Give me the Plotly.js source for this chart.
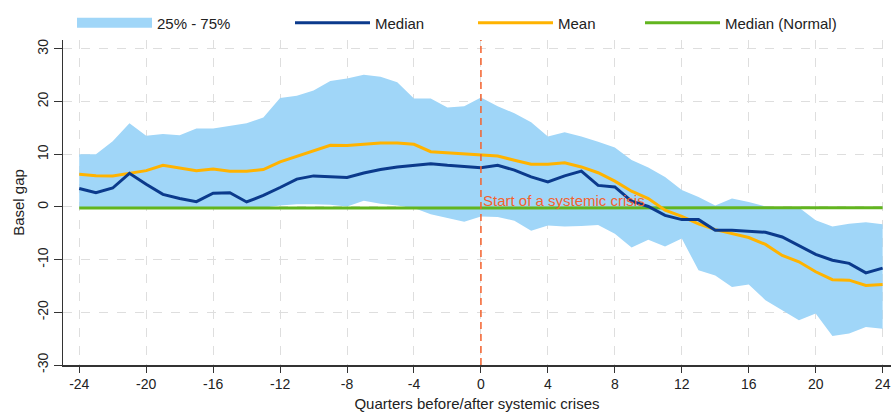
<!DOCTYPE html>
<html>
<head>
<meta charset="utf-8">
<script src="https://cdn.plot.ly/plotly-3.0.1.min.js"></script>
<style>html,body{margin:0;padding:0;background:#fff;}#chart{width:891px;height:412px;}</style>
</head>
<body>
<div id="chart"></div>
<script>
// Quarters before/after systemic crises
var quarters = [-24,-23,-22,-21,-20,-19,-18,-17,-16,-15,-14,-13,-12,-11,-10,-9,-8,-7,-6,-5,-4,-3,-2,-1,0,1,2,3,4,5,6,7,8,9,10,11,12,13,14,15,16,17,18,19,20,21,22,23,24];

// 25th percentile of the Basel gap
var p25 = [-0.1,-0.1,-0.1,-0.1,-0.1,-0.1,-0.1,-0.1,-0.1,-0.1,-0.1,-0.1,0.3,0.5,0.5,0.4,0.1,1.2,0.6,0.3,-0.2,-1.4,-2.1,-2.8,-1.8,-1.9,-2.6,-4.5,-3.5,-3.7,-3.6,-3.4,-5.1,-7.7,-6.2,-7.5,-6.0,-12.0,-13.0,-15.2,-14.7,-17.7,-19.6,-21.5,-20.2,-24.5,-24.0,-22.8,-23.1];

// 75th percentile of the Basel gap
var p75 = [10.0,10.0,12.5,15.9,13.5,13.85,13.6,14.9,14.9,15.4,15.9,17.0,20.7,21.1,22.1,23.9,24.4,25.1,24.7,23.7,20.6,20.6,18.9,19.1,20.8,19.1,17.8,16.1,13.4,14.2,13.4,12.4,11.3,8.9,7.5,5.7,3.2,1.9,0.3,1.6,0.95,0.1,-0.1,-0.1,-2.5,-3.7,-3.2,-2.9,-3.3];

// Median
var median = [3.5,2.7,3.6,6.4,4.3,2.4,1.6,1.0,2.6,2.7,0.95,2.2,3.7,5.3,5.9,5.8,5.6,6.45,7.1,7.6,7.9,8.2,7.9,7.7,7.45,7.9,7.0,5.7,4.75,5.9,6.8,4.1,3.8,1.1,0.1,-1.6,-2.4,-2.4,-4.4,-4.4,-4.6,-4.8,-5.7,-7.3,-9.0,-10.1,-10.7,-12.5,-11.6];

// Mean
var mean = [6.2,5.95,5.9,6.45,6.9,7.9,7.4,6.9,7.2,6.8,6.8,7.1,8.55,9.6,10.75,11.7,11.65,11.9,12.15,12.15,11.9,10.5,10.3,10.1,9.87,9.68,8.86,8.1,8.1,8.4,7.6,6.5,4.9,3.0,1.6,-0.6,-1.8,-3.2,-4.3,-5.05,-5.8,-7.1,-9.2,-10.4,-12.3,-13.8,-13.9,-14.9,-14.7];

// Median (Normal)
var medianNormal = [-0.2,-0.2,-0.2,-0.2,-0.2,-0.2,-0.2,-0.2,-0.2,-0.2,-0.2,-0.2,-0.2,-0.2,-0.2,-0.2,-0.2,-0.2,-0.2,-0.2,-0.2,-0.2,-0.2,-0.2,-0.2,-0.2,-0.2,-0.2,-0.2,-0.2,-0.2,-0.2,-0.2,-0.2,-0.2,-0.2,-0.2,-0.2,-0.2,-0.2,-0.15,-0.15,-0.15,-0.15,-0.15,-0.15,-0.15,-0.15,-0.15];

var xTicks = [-24,-20,-16,-12,-8,-4,0,4,8,12,16,20,24];
var yTicks = [-30,-20,-10,0,10,20,30];

var labels = {
  band: '25% - 75%',
  median: 'Median',
  mean: 'Mean',
  normal: 'Median (Normal)',
  xTitle: 'Quarters before/after systemic crises',
  yTitle: 'Basel gap',
  crisis: 'Start of a systemic crisis'
};

var BAND = '#a0d6f8', NAVY = '#0b3a8c', ORANGE = '#ffb300', GREEN = '#62b51f', RED = '#f4622d';
var FONT = 'Liberation Sans, Arial, sans-serif';

var traces = [
  {x: quarters, y: p25, type: 'scatter', mode: 'lines', line: {width: 0, color: BAND}, showlegend: false, hoverinfo: 'skip'},
  {x: quarters, y: p75, type: 'scatter', mode: 'lines', fill: 'tonexty', fillcolor: BAND, line: {width: 0, color: BAND}, showlegend: false, hoverinfo: 'skip'},
  {x: [null], y: [null], type: 'scatter', mode: 'lines', name: labels.band, line: {width: 15, color: BAND}, legend: 'legend'},
  {x: quarters, y: medianNormal, type: 'scatter', mode: 'lines', name: labels.normal, line: {width: 3, color: GREEN}, legend: 'legend4'},
  {x: quarters, y: mean, type: 'scatter', mode: 'lines', name: labels.mean, line: {width: 3, color: ORANGE}, legend: 'legend3'},
  {x: quarters, y: median, type: 'scatter', mode: 'lines', name: labels.median, line: {width: 3, color: NAVY}, legend: 'legend2'}
];

var PLOT_TOP = 40, PLOT_BOTTOM = 365, PLOT_LEFT = 63, PLOT_W = 828;

function leg(xpx) {
  return {x: (xpx - PLOT_LEFT) / PLOT_W, xanchor: 'left',
          y: (PLOT_BOTTOM - 23) / (PLOT_BOTTOM - PLOT_TOP), yanchor: 'middle',
          orientation: 'h', itemwidth: 75, bgcolor: 'rgba(0,0,0,0)', borderwidth: 0,
          font: {family: FONT, size: 15, color: '#222'}};
}

var layout = {
  width: 891, height: 412,
  margin: {l: PLOT_LEFT, r: 0, t: PLOT_TOP, b: 412 - PLOT_BOTTOM, pad: 0},
  paper_bgcolor: '#fff', plot_bgcolor: '#fff',
  font: {family: FONT, size: 14, color: '#222'},
  showlegend: true,
  legend: leg(72), legend2: leg(290), legend3: leg(473), legend4: leg(640),
  xaxis: {
    range: [-24.97, 24.5], tickvals: xTicks, ticktext: xTicks.map(String),
    ticks: 'outside', ticklen: 6, tickwidth: 1, tickcolor: '#333',
    ticklabeloverflow: 'allow',
    showline: true, linecolor: '#333', linewidth: 1.5,
    showgrid: true, gridcolor: '#dedede', griddash: 'dash', gridwidth: 1,
    zeroline: false, tickfont: {size: 14, color: '#222'},
    title: {text: labels.xTitle, font: {size: 15, color: '#222'}, standoff: 8}
  },
  yaxis: {
    range: [-30, 31.7], tickvals: yTicks, ticktext: yTicks.map(String), tickangle: -90,
    ticks: 'outside', ticklen: 8, tickwidth: 1, tickcolor: '#333',
    showline: true, linecolor: '#333', linewidth: 1.5,
    showgrid: true, gridcolor: '#dedede', griddash: 'dash', gridwidth: 1,
    zeroline: false, tickfont: {size: 14, color: '#222'},
    title: {text: labels.yTitle, font: {size: 15, color: '#222'}, standoff: 6}
  },
  shapes: [{type: 'line', xref: 'x', yref: 'paper', x0: 0, x1: 0, y0: 0, y1: 1,
            line: {color: RED, width: 1.5, dash: '7px,5px'}, layer: 'above'}],
  annotations: [{x: 0, y: 1.2, xref: 'x', yref: 'y', xanchor: 'left', yanchor: 'middle',
                 text: labels.crisis, showarrow: false, xshift: 0,
                 font: {family: FONT, size: 15, color: RED}}]
};

Plotly.newPlot('chart', traces, layout, {displayModeBar: false, staticPlot: true});
</script>
</body>
</html>
